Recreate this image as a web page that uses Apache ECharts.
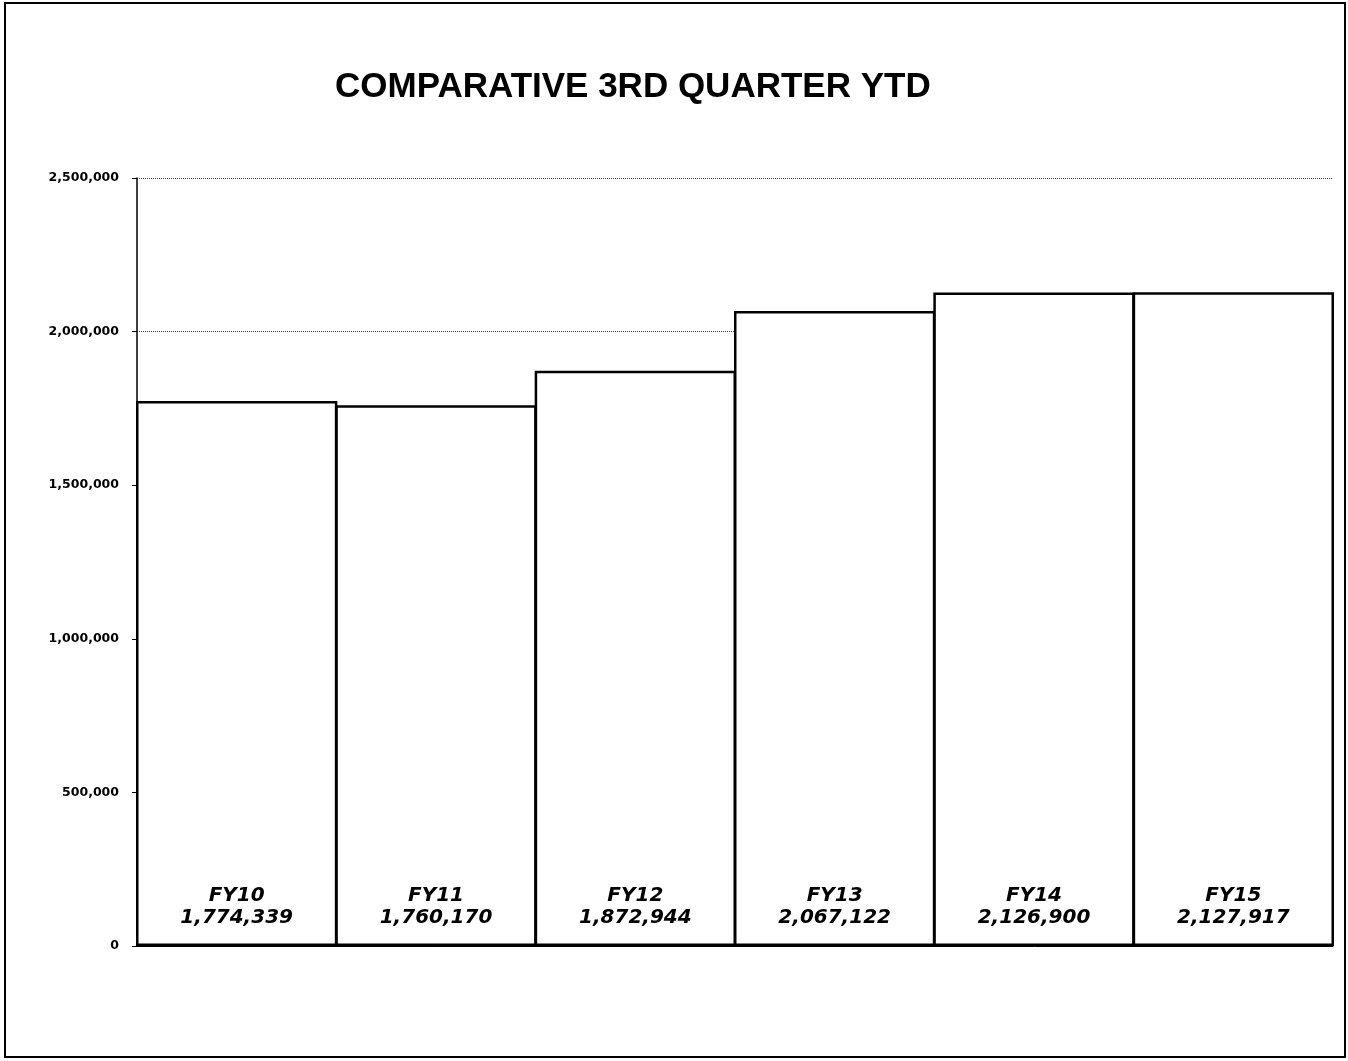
<!doctype html>
<html lang="en">
<head>
    <meta charset="utf-8">
    <title>Comparative 3rd Quarter YTD</title>
    <script src="https://cdn.jsdelivr.net/npm/echarts@6/dist/echarts.min.js"></script>
    <style>
        html, body { margin: 0; padding: 0; background: #fff; }
        #mychart { width: 1348px; height: 1061px; }
    </style>
</head>
<body>
    <div id="mychart"></div>

    <script type="text/javascript">
        // chart data
        var years = ['FY10', 'FY11', 'FY12', 'FY13', 'FY14', 'FY15'];
        var ytdTotals = [1774339, 1760170, 1872944, 2067122, 2126900, 2127917];
        var yTicks = [0, 500000, 1000000, 1500000, 2000000, 2500000];

        function fmt(v) {
            return v.toString().replace(/\B(?=(\d{3})+(?!\d))/g, ',');
        }

        var myChart = echarts.init(document.getElementById('mychart'));
        var option = {
            animation: false,
            backgroundColor: '#fff',
            title: {
                text: 'COMPARATIVE 3RD QUARTER YTD',
                left: 330,
                top: 65,
                textStyle: {
                    color: '#000',
                    fontFamily: 'Liberation Sans',
                    fontWeight: 'bold',
                    fontSize: 35
                }
            },
            // outer frame
            graphic: [
                {
                    type: 'rect',
                    shape: { x: 5, y: 3, width: 1340, height: 1054 },
                    style: { fill: 'none', stroke: '#000', lineWidth: 2 },
                    z: 100
                }
            ],
            grid: {
                left: 137,
                right: 15,
                top: 178,
                bottom: 115
            },
            xAxis: {
                type: 'category',
                data: years,
                axisLine: { show: true, lineStyle: { color: '#000', width: 1 } },
                axisTick: { show: false },
                axisLabel: { show: false },
                splitLine: { show: false }
            },
            yAxis: {
                type: 'value',
                min: yTicks[0],
                max: yTicks[yTicks.length - 1],
                interval: yTicks[1] - yTicks[0],
                axisLine: { show: true, lineStyle: { color: '#000', width: 1.5 } },
                axisTick: { show: true, inside: false, length: 5, lineStyle: { color: '#000' } },
                axisLabel: {
                    color: '#000',
                    fontFamily: 'DejaVu Sans',
                    fontWeight: 'bold',
                    fontSize: 12.5,
                    margin: 18,
                    formatter: function (v) { return fmt(v); }
                },
                splitLine: {
                    show: true,
                    lineStyle: { color: '#444', type: 'dotted', width: 1 }
                }
            },
            series: [
                {
                    name: 'YTD',
                    type: 'bar',
                    data: ytdTotals,
                    barWidth: '101%',
                    itemStyle: {
                        color: '#fff',
                        borderColor: '#000',
                        borderWidth: 2.5
                    },
                    label: {
                        show: true,
                        position: 'insideBottom',
                        distance: 17,
                        color: '#000',
                        fontFamily: 'DejaVu Sans',
                        fontWeight: 'bold',
                        fontStyle: 'italic',
                        fontSize: 20,
                        lineHeight: 22,
                        formatter: function (p) {
                            return years[p.dataIndex] + '\n' + fmt(p.value);
                        }
                    }
                }
            ]
        };
        myChart.setOption(option);
    </script>
</body>
</html>
